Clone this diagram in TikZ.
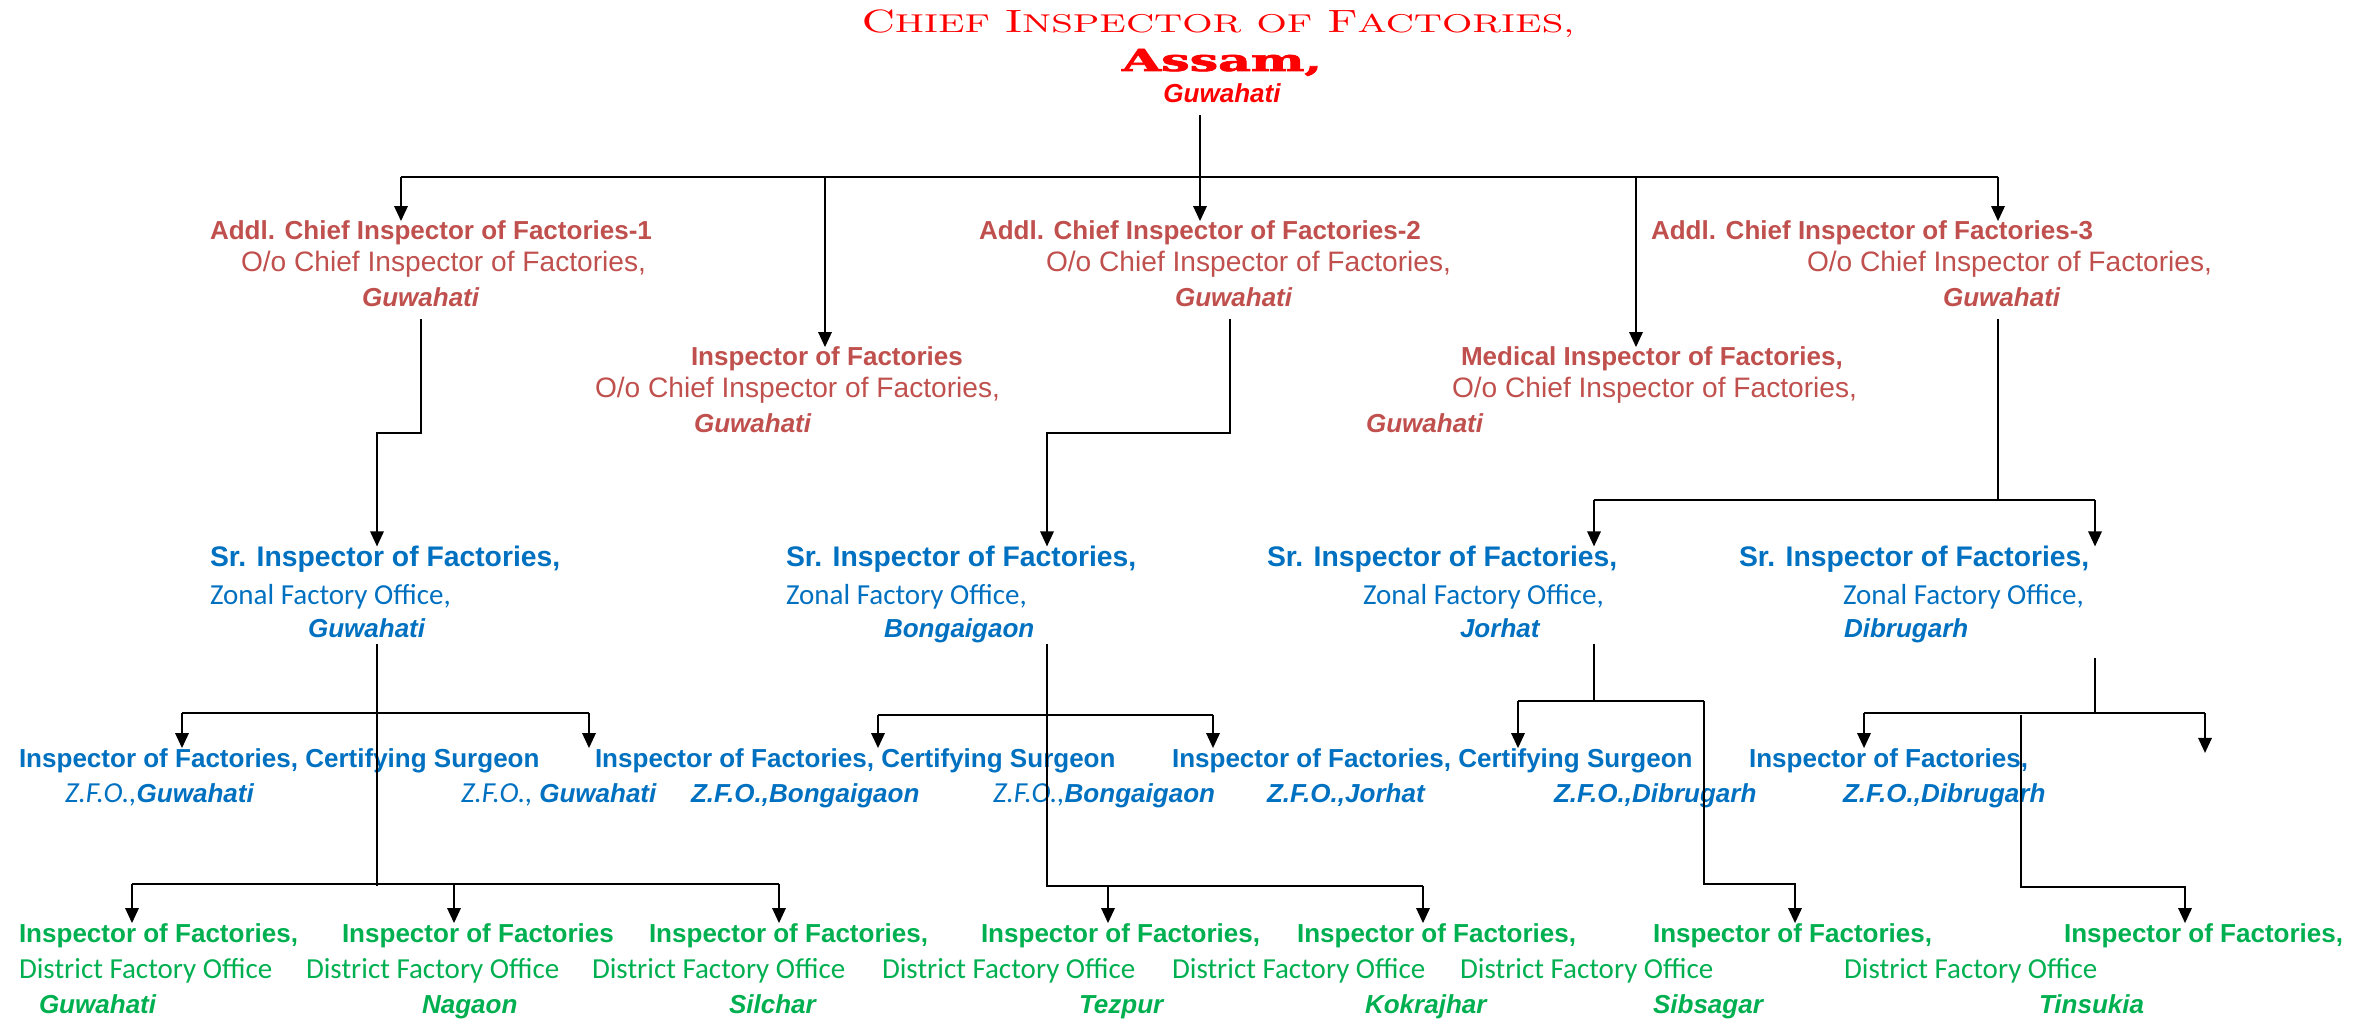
\documentclass[tikz,border=0pt]{standalone}
\usepackage{fontspec}
\usetikzlibrary{arrows.meta}
\newfontfamily\lsansfam{Liberation Sans}
\newfontfamily\carlfam{Carlito}
\newfontfamily\slabfam[FakeBold=2]{DejaVu Serif Bold}
\definecolor{ctitle}{HTML}{FF0000}
\definecolor{cred}{HTML}{C0504D}
\definecolor{cblue}{HTML}{0070C0}
\definecolor{cgreen}{HTML}{00B050}
\newcommand\FBd{\lsansfam\bfseries\fontsize{7.4}{9}\selectfont}
\newcommand\FSr{\lsansfam\bfseries\fontsize{8.05}{9}\selectfont}
\newcommand\FRg{\lsansfam\fontsize{8}{9}\selectfont}
\newcommand\FBi{\lsansfam\bfseries\itshape\fontsize{7.4}{9}\selectfont}
\newcommand\FCa{\carlfam\fontsize{8.25}{9}\selectfont}
\newcommand\FCi{\carlfam\itshape\fontsize{8.25}{9}\selectfont}
\newcommand\TCap[1]{{\fontsize{10}{12}\selectfont #1}}
\newcommand\TSml[1]{{\fontsize{8}{10}\selectfont #1}}
\tikzset{
  lbl/.style={anchor=base west, inner sep=0pt, outer sep=0pt},
  rb/.style={lbl, text=cred, font=\FBd},
  ro/.style={lbl, text=cred, font=\FRg},
  ri/.style={lbl, text=cred, font=\FBi},
  bs/.style={lbl, text=cblue, font=\FSr},
  bb/.style={lbl, text=cblue, font=\FBd},
  bz/.style={lbl, text=cblue, font=\FCa},
  bi/.style={lbl, text=cblue, font=\FBi},
  bzi/.style={lbl, text=cblue, font=\FCi},
  gb/.style={lbl, text=cgreen, font=\FBd},
  gd/.style={lbl, text=cgreen, font=\FCa},
  gi/.style={lbl, text=cgreen, font=\FBi},
  ln/.style={line width=0.65pt, black, line join=miter},
  arr/.style={ln, -{Triangle[length=4.3pt,width=3.8pt]}}
}
\begin{document}
\begin{tikzpicture}[x=0.01cm, y=-0.01cm]
\useasboundingbox (0,0) rectangle (2373,1022);
% ---------- title ----------
\node[inner sep=0pt, anchor=base, text=ctitle] (t1) at (1218,33)
  {\resizebox{7.12cm}{0.227cm}{\TCap{C}\TSml{HIEF} \TCap{I}\TSml{NSPECTOR} \TSml{OF} \TCap{F}\TSml{ACTORIES,}}};
\node[inner sep=0pt, anchor=base, text=ctitle] (t2) at (1222,71)
  {\resizebox{2.0cm}{0.22cm}{\slabfam Assam,}};
\node[inner sep=0pt, anchor=base, text=ctitle, font=\FBi] (t3) at (1222,103) {Guwahati};
% ---------- level 2 (red) ----------
\node[rb] (a1t) at (210,240) {Addl. Chief Inspector of Factories-1};
\node[ro] (a1o) at (241,272) {O/o Chief Inspector of Factories,};
\node[ri] (a1g) at (362,307) {Guwahati};
\node[rb] (it) at (691,366) {Inspector of Factories};
\node[ro] (io) at (595,398) {O/o Chief Inspector of Factories,};
\node[ri] (ig) at (694,433) {Guwahati};
\node[rb] (a2t) at (979,240) {Addl. Chief Inspector of Factories-2};
\node[ro] (a2o) at (1046,272) {O/o Chief Inspector of Factories,};
\node[ri] (a2g) at (1175,307) {Guwahati};
\node[rb] (mt) at (1461,366) {Medical Inspector of Factories,};
\node[ro] (mo) at (1452,398) {O/o Chief Inspector of Factories,};
\node[ri] (mg) at (1366,433) {Guwahati};
\node[rb] (a3t) at (1651,240) {Addl. Chief Inspector of Factories-3};
\node[ro] (a3o) at (1807,272) {O/o Chief Inspector of Factories,};
\node[ri] (a3g) at (1943,307) {Guwahati};
% ---------- level 3 (blue) ----------
\node[bs] (s1t) at (210,567) {Sr. Inspector of Factories,};
\node[bz] (s1z) at (210,604) {Zonal Factory Office,};
\node[bi] (s1g) at (308,638) {Guwahati};
\node[bs] (s2t) at (786,567) {Sr. Inspector of Factories,};
\node[bz] (s2z) at (786,604) {Zonal Factory Office,};
\node[bi] (s2g) at (884,638) {Bongaigaon};
\node[bs] (s3t) at (1267,567) {Sr. Inspector of Factories,};
\node[bz] (s3z) at (1363,604) {Zonal Factory Office,};
\node[bi] (s3g) at (1460,638) {Jorhat};
\node[bs] (s4t) at (1739,567) {Sr. Inspector of Factories,};
\node[bz] (s4z) at (1843,604) {Zonal Factory Office,};
\node[bi] (s4g) at (1844,638) {Dibrugarh};
% ---------- level 4 (blue) ----------
\node[bb] (zb1) at (19,767) {Inspector of Factories, Certifying Surgeon};
\node[bzi] (zf1) at (65,802) {Z.F.O.,{\FBi Guwahati}};
\node[bzi] (zf2) at (461,802) {Z.F.O., {\FBi Guwahati}};
\node[bb] (zb2) at (595,767) {Inspector of Factories, Certifying Surgeon};
\node[bi] (zf3) at (691,802) {Z.F.O.,Bongaigaon};
\node[bzi] (zf4) at (993,802) {Z.F.O.,{\FBi Bongaigaon}};
\node[bb] (zb3) at (1172,767) {Inspector of Factories, Certifying Surgeon};
\node[bi] (zf5) at (1267,802) {Z.F.O.,Jorhat};
\node[bi] (zf6) at (1554,802) {Z.F.O.,Dibrugarh};
\node[bb] (zb4) at (1749,767) {Inspector of Factories,};
\node[bi] (zf7) at (1843,802) {Z.F.O.,Dibrugarh};
% ---------- level 5 (green) ----------
\node[gb] (g1) at (19,942) {Inspector of Factories,};
\node[gb] (g2) at (342,942) {Inspector of Factories};
\node[gb] (g3) at (649,942) {Inspector of Factories,};
\node[gb] (g4) at (981,942) {Inspector of Factories,};
\node[gb] (g5) at (1297,942) {Inspector of Factories,};
\node[gb] (g6) at (1653,942) {Inspector of Factories,};
\node[gb] (g7) at (2064,942) {Inspector of Factories,};
\node[gd] (d1) at (19,978) {District Factory Office};
\node[gd] (d2) at (306,978) {District Factory Office};
\node[gd] (d3) at (592,978) {District Factory Office};
\node[gd] (d4) at (882,978) {District Factory Office};
\node[gd] (d5) at (1172,978) {District Factory Office};
\node[gd] (d6) at (1460,978) {District Factory Office};
\node[gd] (d7) at (1844,978) {District Factory Office};
\node[gi] (n1) at (39,1013) {Guwahati};
\node[gi] (n2) at (422,1013) {Nagaon};
\node[gi] (n3) at (729,1013) {Silchar};
\node[gi] (n4) at (1079,1013) {Tezpur};
\node[gi] (n5) at (1365,1013) {Kokrajhar};
\node[gi] (n6) at (1653,1013) {Sibsagar};
\node[gi] (n7) at (2039,1013) {Tinsukia};
% ---------- connectors: top ----------
\coordinate (top0) at (1200,115);
\coordinate (top1) at (1200,177);
\coordinate (tb1) at (401,177);
\coordinate (tb2) at (825,177);
\coordinate (tb4) at (1636,177);
\coordinate (tb5) at (1998,177);
\draw[ln] (top0) -- (top1);
\draw[ln] (tb1) -- (tb5);
\draw[arr] (tb1) -- (tb1 |- a1t.north);
\draw[arr] (tb2) -- (tb2 |- it.north);
\draw[arr] (top1) -- (top1 |- a2t.north);
\draw[arr] (tb4) -- (tb4 |- mt.north);
\draw[arr] (tb5) -- (tb5 |- a3t.north);
% ACIF-1 -> Sr Guwahati
\coordinate (p1a) at (421,319);
\coordinate (p1b) at (421,433);
\coordinate (p1c) at (377,433);
\draw[arr] (p1a) -- (p1b) -- (p1c) -- (p1c |- s1t.north);
% ACIF-2 -> Sr Bongaigaon
\coordinate (p2a) at (1230,319);
\coordinate (p2b) at (1230,433);
\coordinate (p2c) at (1047,433);
\draw[arr] (p2a) -- (p2b) -- (p2c) -- (p2c |- s2t.north);
% ACIF-3 -> Sr Jorhat, Sr Dibrugarh
\coordinate (p3a) at (1998,319);
\coordinate (p3b) at (1998,500);
\coordinate (p3l) at (1594,500);
\coordinate (p3r) at (2095,500);
\draw[ln] (p3a) -- (p3b);
\draw[ln] (p3l) -- (p3r);
\draw[arr] (p3l) -- (p3l |- s3t.north);
\draw[arr] (p3r) -- (p3r |- s4t.north);
% Sr Guwahati
\coordinate (q1a) at (377,644);
\coordinate (q1b) at (377,886);
\coordinate (q1l) at (182,713);
\coordinate (q1r) at (589,713);
\coordinate (r1l) at (132,884);
\coordinate (r1m) at (454,884);
\coordinate (r1r) at (779,884);
\draw[ln] (q1a) -- (q1b);
\draw[ln] (q1l) -- (q1r);
\draw[arr] (q1l) -- (q1l |- zb1.north);
\draw[arr] (q1r) -- (q1r |- zb2.north);
\draw[ln] (r1l) -- (r1r);
\draw[arr] (r1l) -- (r1l |- g1.north);
\draw[arr] (r1m) -- (r1m |- g2.north);
\draw[arr] (r1r) -- (r1r |- g3.north);
% Sr Bongaigaon
\coordinate (q2a) at (1047,644);
\coordinate (q2b) at (1047,886);
\coordinate (q2l) at (878,715);
\coordinate (q2r) at (1213,715);
\coordinate (r2l) at (1108,886);
\coordinate (r2r) at (1423,886);
\draw[ln] (q2a) -- (q2b) -- (r2r);
\draw[ln] (q2l) -- (q2r);
\draw[arr] (q2l) -- (q2l |- zb2.north);
\draw[arr] (q2r) -- (q2r |- zb3.north);
\draw[arr] (r2l) -- (r2l |- g4.north);
\draw[arr] (r2r) -- (r2r |- g5.north);
% Sr Jorhat
\coordinate (q3a) at (1594,644);
\coordinate (q3b) at (1594,701);
\coordinate (q3l) at (1518,701);
\coordinate (q3r) at (1704,701);
\coordinate (q3d) at (1704,884);
\coordinate (q3e) at (1795,884);
\draw[ln] (q3a) -- (q3b);
\draw[ln] (q3l) -- (q3r);
\draw[arr] (q3l) -- (q3l |- zb3.north);
\draw[arr] (q3r) -- (q3d) -- (q3e) -- (q3e |- g6.north);
% Sr Dibrugarh
\coordinate (q4a) at (2095,658);
\coordinate (q4b) at (2095,713);
\coordinate (q4l) at (1864,713);
\coordinate (q4r) at (2205,713);
\coordinate (q4t) at (2205,753);
\coordinate (q4m) at (2021,715);
\coordinate (q4d) at (2021,887);
\coordinate (q4e) at (2185,887);
\draw[ln] (q4a) -- (q4b);
\draw[ln] (q4l) -- (q4r);
\draw[arr] (q4l) -- (q4l |- zb4.north);
\draw[arr] (q4r) -- (q4t);
\draw[arr] (q4m) -- (q4d) -- (q4e) -- (q4e |- g7.north);
\end{tikzpicture}
\end{document}
